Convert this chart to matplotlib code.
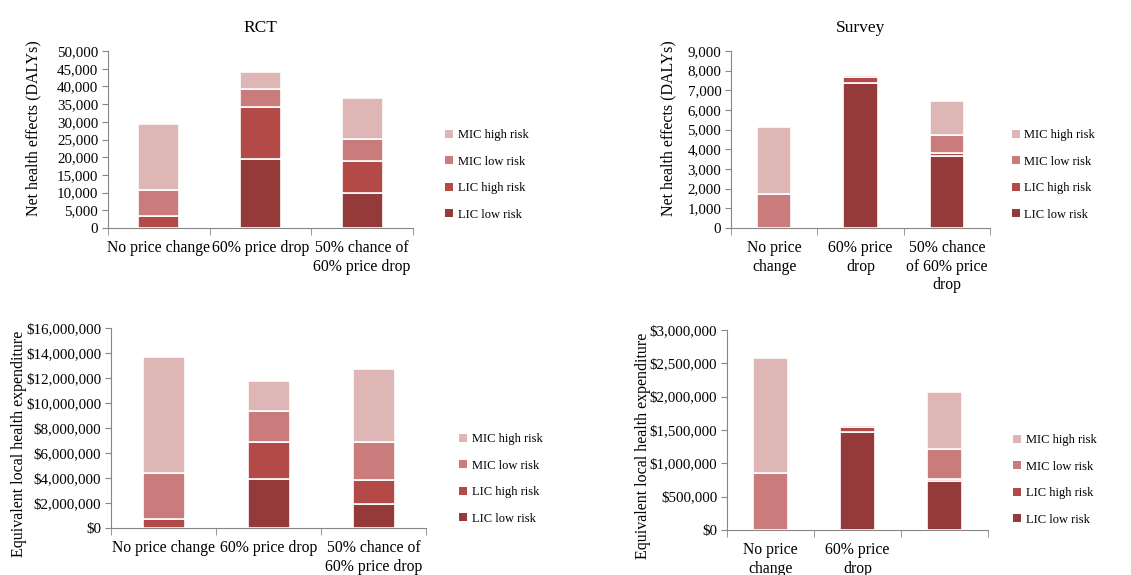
import matplotlib
matplotlib.use("Agg")
import matplotlib.pyplot as plt
from matplotlib.patches import Patch
from matplotlib.ticker import FuncFormatter, MultipleLocator
import numpy as np

plt.rcParams['font.family'] = ['Liberation Serif', 'DejaVu Serif']

series = ["LIC low risk", "LIC high risk", "MIC low risk", "MIC high risk"]
colors = ["#953A3A", "#B44A48", "#C97C7B", "#DFB6B6"]

cats_wide = ["No price change", "60% price drop", "50% chance of\n60% price drop"]
cats_survey_top = ["No price\nchange", "60% price\ndrop", "50% chance\nof 60% price\ndrop"]
cats_survey_bottom = ["No price\nchange", "60% price\ndrop", ""]

# RCT, net health effects (DALYs)
rct_daly_lic_low = [0, 19500, 10000]
rct_daly_lic_high = [3500, 14700, 8900]
rct_daly_mic_low = [7300, 5100, 6300]
rct_daly_mic_high = [18700, 4900, 11500]

# Survey, net health effects (DALYs)
srv_daly_lic_low = [0, 7350, 3650]
srv_daly_lic_high = [0, 350, 150]
srv_daly_mic_low = [1750, 60, 950]
srv_daly_mic_high = [3400, 30, 1700]

# RCT, equivalent local health expenditure ($)
rct_usd_lic_low = [0, 3900000, 1950000]
rct_usd_lic_high = [750000, 2950000, 1900000]
rct_usd_mic_low = [3650000, 2550000, 3050000]
rct_usd_mic_high = [9300000, 2400000, 5850000]

# Survey, equivalent local health expenditure ($)
srv_usd_lic_low = [0, 1470000, 730000]
srv_usd_lic_high = [0, 70000, 40000]
srv_usd_mic_low = [860000, 40000, 450000]
srv_usd_mic_high = [1720000, 0, 850000]

fig = plt.figure(figsize=(11.31, 5.75), dpi=100)

W = 1131.0
H = 575.0

def px_axes(x0, x1, ytop, ybot):
    return fig.add_axes([x0 / W, 1 - ybot / H, (x1 - x0) / W, (ybot - ytop) / H])

comma = FuncFormatter(lambda v, p: f"{int(round(v)):,}")
dollar = FuncFormatter(lambda v, p: "\\$" + f"{int(round(v)):,}")

def draw(ax, box, cats, data, ymax, ystep, fmt, ylabel, title, legend_xy, label_px):
    x0, x1, ytop, ybot = box
    x = np.arange(len(cats))
    bottom = np.zeros(len(cats))
    for vals, c in zip(data, colors):
        vals = np.array(vals, dtype=float)
        ax.bar(x, vals, 0.4, bottom=bottom, color=c, edgecolor="white", linewidth=1.2, zorder=3)
        bottom += vals
    ax.set_xlim(-0.5, len(cats) - 0.5)
    ax.set_ylim(0, ymax)
    ax.yaxis.set_major_locator(MultipleLocator(ystep))
    ax.yaxis.set_major_formatter(fmt)
    ax.set_xticks(x)
    ax.set_xticklabels(cats, fontsize=11.3, linespacing=1.2)
    ax.set_xticks(np.arange(-0.5, len(cats), 1.0), minor=True)
    ax.tick_params(axis="x", which="major", length=0, pad=9)
    ax.tick_params(axis="x", which="minor", length=5, color="#868686", direction="out")
    ax.tick_params(axis="y", length=4, color="#868686", labelsize=10.8, pad=3)
    for s in ["top", "right"]:
        ax.spines[s].set_visible(False)
    for s in ["left", "bottom"]:
        ax.spines[s].set_color("#868686")
    ax.set_ylabel(ylabel, fontsize=11.5)
    ax.yaxis.label.set_va("center")
    lx, ly = label_px
    ax.yaxis.set_label_coords((lx - x0) / (x1 - x0), (ybot - ly) / (ybot - ytop))
    if title:
        ax.set_title(title, fontsize=12.5, pad=14)
    handles = [Patch(facecolor=c, edgecolor="none") for c in colors]
    fig.legend(handles[::-1], series[::-1], loc="center left",
               bbox_to_anchor=(legend_xy[0] / W, 1 - legend_xy[1] / H),
               frameon=False, fontsize=9, handlelength=0.6, handleheight=0.6,
               handletextpad=0.4, labelspacing=1.15, borderpad=0, borderaxespad=0)

b1 = (108, 413, 51, 228)
ax1 = px_axes(*b1)
draw(ax1, b1, cats_wide, [rct_daly_lic_low, rct_daly_lic_high, rct_daly_mic_low, rct_daly_mic_high],
     50000, 5000, comma, "Net health effects (DALYs)", "RCT", (445, 175), (33, 128))

b2 = (731, 990, 51, 228)
ax2 = px_axes(*b2)
draw(ax2, b2, cats_survey_top, [srv_daly_lic_low, srv_daly_lic_high, srv_daly_mic_low, srv_daly_mic_high],
     9000, 1000, comma, "Net health effects (DALYs)", "Survey", (1012, 175), (668, 128))

b3 = (111, 426, 328, 528)
ax3 = px_axes(*b3)
draw(ax3, b3, cats_wide, [rct_usd_lic_low, rct_usd_lic_high, rct_usd_mic_low, rct_usd_mic_high],
     16000000, 2000000, dollar, "Equivalent local health expenditure", None, (459, 479), (19, 444))

b4 = (727, 988, 330, 530)
ax4 = px_axes(*b4)
draw(ax4, b4, cats_survey_bottom, [srv_usd_lic_low, srv_usd_lic_high, srv_usd_mic_low, srv_usd_mic_high],
     3000000, 500000, dollar, "Equivalent local health expenditure", None, (1013, 480), (643, 446))

fig.savefig("out.png", dpi=100, facecolor="white")
